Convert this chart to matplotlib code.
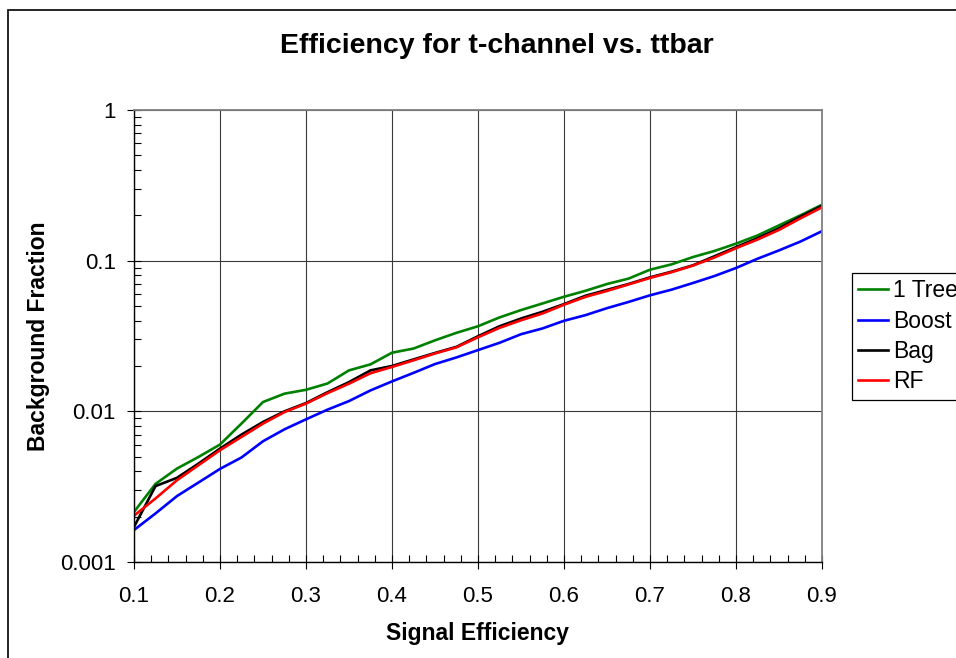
import matplotlib
matplotlib.use("Agg")
import matplotlib.pyplot as plt
from matplotlib.ticker import FixedLocator, MultipleLocator, LogLocator, NullFormatter, FuncFormatter
from matplotlib.patches import Rectangle

plt.rcParams['font.family'] = ['Liberation Sans', 'DejaVu Sans']

# signal efficiency points
sig_eff = [0.1, 0.125, 0.15, 0.175, 0.2, 0.225, 0.25, 0.275, 0.3, 0.325, 0.35,
           0.375, 0.4, 0.425, 0.45, 0.475, 0.5, 0.525, 0.55, 0.575, 0.6, 0.625,
           0.65, 0.675, 0.7, 0.725, 0.75, 0.775, 0.8, 0.825, 0.85, 0.875, 0.9]

one_tree = [0.00215, 0.0033, 0.00417, 0.00498, 0.00602, 0.0083, 0.01153, 0.0131,
            0.0139, 0.0153, 0.0187, 0.0205, 0.0245, 0.0261, 0.0296, 0.0332, 0.0367,
            0.042, 0.047, 0.052, 0.0576, 0.0631, 0.0700, 0.076, 0.0871, 0.0945,
            0.1057, 0.116, 0.1297, 0.147, 0.1715, 0.2, 0.235]

boost = [0.00163, 0.0021, 0.00274, 0.00337, 0.00415, 0.00494, 0.00633, 0.0076,
         0.00885, 0.01026, 0.0117, 0.01377, 0.0158, 0.018, 0.0206, 0.0228, 0.0255,
         0.0285, 0.0325, 0.0355, 0.0399, 0.0435, 0.0484, 0.0532, 0.0589, 0.0642,
         0.0711, 0.0791, 0.0894, 0.103, 0.117, 0.134, 0.157]

bag = [0.00171, 0.00319, 0.00362, 0.0045, 0.00566, 0.00701, 0.0085, 0.0100,
       0.01135, 0.0134, 0.01563, 0.0187, 0.0200, 0.0221, 0.0244, 0.0268, 0.0315,
       0.0367, 0.0413, 0.0458, 0.0515, 0.0585, 0.0640, 0.0700, 0.0775, 0.0845,
       0.0932, 0.107, 0.123, 0.141, 0.164, 0.196, 0.231]

rf = [0.00203, 0.00264, 0.00349, 0.00439, 0.00552, 0.00676, 0.00829, 0.00989,
      0.01125, 0.0132, 0.01525, 0.0179, 0.0197, 0.0218, 0.0242, 0.0266, 0.0310,
      0.0358, 0.0402, 0.0446, 0.0510, 0.0575, 0.0630, 0.0695, 0.0768, 0.0838,
      0.0928, 0.105, 0.121, 0.138, 0.160, 0.191, 0.226]

x_ticks = [0.1, 0.2, 0.3, 0.4, 0.5, 0.6, 0.7, 0.8, 0.9]
y_ticks = [0.001, 0.01, 0.1, 1]

fig = plt.figure(figsize=(9.56, 6.58), dpi=100)
ax = fig.add_axes([134 / 956, 1 - 562 / 658, 688 / 956, 452 / 658])

# outer chart border (runs off the right and bottom edge)
fig.patches.append(Rectangle((8 / 956, -0.05), 1.2, 1 - 10 / 658 + 0.05,
                             transform=fig.transFigure, fill=False,
                             edgecolor='black', linewidth=1.2))

ax.plot(sig_eff, one_tree, color='#008000', lw=1.9, label='1 Tree')
ax.plot(sig_eff, boost, color='#0000FF', lw=1.9, label='Boost')
ax.plot(sig_eff, bag, color='black', lw=1.9, label='Bag')
ax.plot(sig_eff, rf, color='#FF0000', lw=1.9, label='RF')

ax.set_yscale('log')
ax.set_xlim(0.1, 0.9)
ax.set_ylim(0.001, 1)

ax.xaxis.set_major_locator(FixedLocator(x_ticks))
ax.xaxis.set_minor_locator(MultipleLocator(0.02))
ax.yaxis.set_major_locator(FixedLocator(y_ticks))
ax.yaxis.set_minor_locator(LogLocator(base=10, subs=range(2, 10)))
ax.yaxis.set_minor_formatter(NullFormatter())
ax.yaxis.set_major_formatter(FuncFormatter(lambda v, p: '%g' % v))
ax.xaxis.set_major_formatter(FuncFormatter(lambda v, p: '%g' % v))

ax.grid(True, which='major', color='#3a3a3a', lw=0.8)
ax.tick_params(which='major', direction='inout', length=10, width=0.8,
               labelsize=16)
ax.tick_params(axis='y', which='major', pad=8)
ax.tick_params(axis='x', which='major', pad=12)
ax.tick_params(which='minor', direction='in', length=5, width=0.8)
ax.tick_params(top=False, right=False, which='both')

for side in ['top', 'right']:
    ax.spines[side].set_color('#808080')
    ax.spines[side].set_linewidth(1.3)
for side in ['left', 'bottom']:
    ax.spines[side].set_color('black')
    ax.spines[side].set_linewidth(1.0)

ax.set_xlabel('Signal Efficiency', fontsize=16.5, fontweight='bold', labelpad=11)
ax.set_ylabel('Background Fraction', fontsize=16.5, fontweight='bold')
ax.yaxis.set_label_coords(-84 / 688, 0.5)

fig.text(497 / 956, 1 - 46 / 658, 'Efficiency for t-channel vs. ttbar',
         fontsize=20.5, fontweight='bold', ha='center', va='center')

leg = ax.legend(loc='upper left', bbox_to_anchor=(852 / 956, 1 - 273 / 658),
                bbox_transform=fig.transFigure, fontsize=16.5, frameon=True,
                fancybox=False, framealpha=1, edgecolor='black',
                handlelength=1.3, handletextpad=0.2, labelspacing=0.32,
                borderaxespad=0, borderpad=0.28)
leg.get_frame().set_linewidth(0.9)

fig.savefig('out.png', dpi=100)
